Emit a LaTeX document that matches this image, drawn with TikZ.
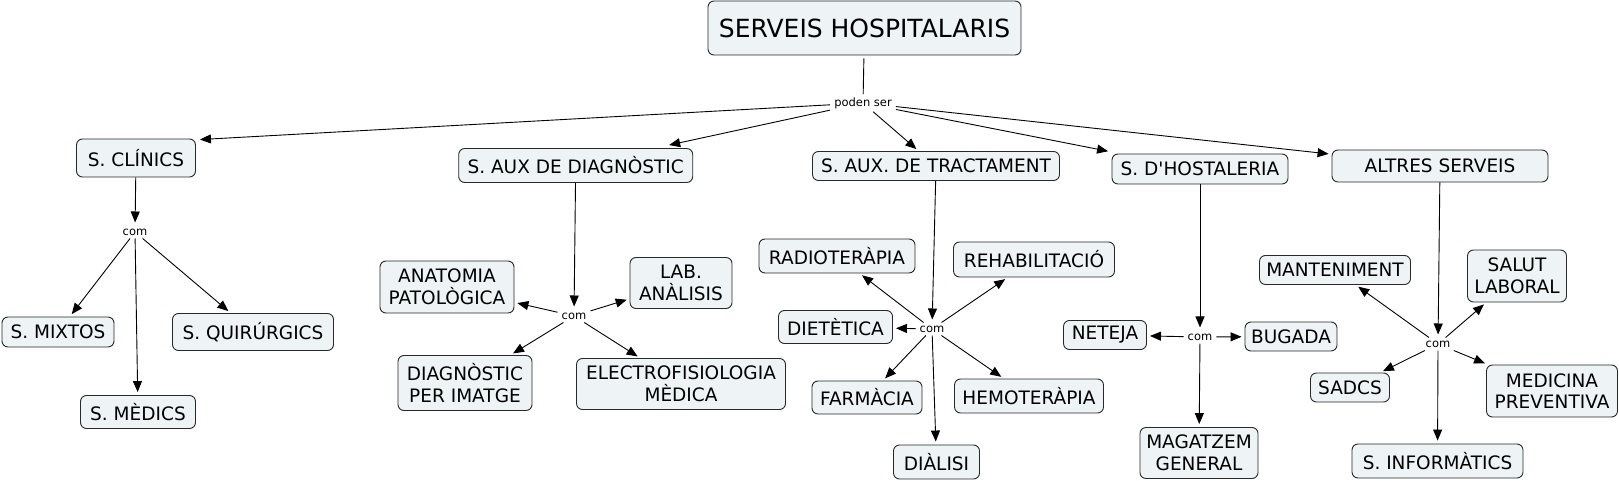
\documentclass[tikz,border=0pt]{standalone}
\usepackage{fontspec}
\setmainfont{DejaVu Sans}
\usetikzlibrary{arrows.meta,calc}
\definecolor{boxfill}{RGB}{238,243,245}
\definecolor{boxdraw}{RGB}{40,40,40}
\tikzset{
  cbox/.style={draw=boxdraw, fill=boxfill, line width=0.9pt, rounded corners=6pt,
    inner sep=0pt, align=center, font=\fontsize{18.5pt}{21.5pt}\selectfont},
  link/.style={inner xsep=4pt, inner ysep=3pt, font=\fontsize{11.5pt}{13pt}\selectfont},
  arr/.style={draw=black, line width=0.9pt, -{Triangle[length=11pt,width=9pt]}, shorten >=3pt},
  plain/.style={draw=black, line width=0.9pt}
}
\begin{document}
\begin{tikzpicture}[x=1pt,y=-1pt]
\useasboundingbox (0,0) rectangle (1619,481);
% top
\node[cbox, minimum width=313pt, minimum height=54pt, font=\fontsize{25pt}{28pt}\selectfont] (title) at (864.5,28) {SERVEIS HOSPITALARIS};
\node[link] (ps) at (863,103) {poden ser};
% second level
\node[cbox, minimum width=119pt, minimum height=38pt] (clin) at (136,158) {S. CLÍNICS};
\node[cbox, minimum width=234pt, minimum height=34pt] (diag) at (575.7,165.5) {S. AUX DE DIAGNÒSTIC};
\node[cbox, minimum width=247pt, minimum height=29pt] (trac) at (936,166) {S. AUX. DE TRACTAMENT};
\node[cbox, minimum width=176pt, minimum height=30pt] (host) at (1200,169) {S. D\textquotesingle HOSTALERIA};
\node[cbox, minimum width=216pt, minimum height=32pt] (altr) at (1440,166) {ALTRES SERVEIS};
% clinics
\node[link] (c1) at (135,232) {com};
\node[cbox, minimum width=112pt, minimum height=30pt] (mixt) at (58,332) {S. MIXTOS};
\node[cbox, minimum width=115pt, minimum height=33pt] (medi) at (138,412) {S. MÈDICS};
\node[cbox, minimum width=161pt, minimum height=37pt] (quir) at (253,332) {S. QUIRÚRGICS};
% diagnostic
\node[link] (c2) at (574,316) {com};
\node[cbox, minimum width=134pt, minimum height=52pt] (anat) at (447,287) {ANATOMIA\\PATOLÒGICA};
\node[cbox, minimum width=102pt, minimum height=51pt] (lab) at (681,283) {LAB.\\ANÀLISIS};
\node[cbox, minimum width=134pt, minimum height=55pt] (dimg) at (465,383) {DIAGNÒSTIC\\PER IMATGE};
\node[cbox, minimum width=209pt, minimum height=51pt] (elec) at (681,384) {ELECTROFISIOLOGIA\\MÈDICA};
% tractament
\node[link] (c3) at (932,329) {com};
\node[cbox, minimum width=156pt, minimum height=34pt] (radio) at (837,256) {RADIOTERÀPIA};
\node[cbox, minimum width=161pt, minimum height=35pt] (rehab) at (1034,259.5) {REHABILITACIÓ};
\node[cbox, minimum width=114pt, minimum height=33pt] (diet) at (835.5,327) {DIETÈTICA};
\node[cbox, minimum width=110pt, minimum height=33pt] (farm) at (867,397.5) {FARMÀCIA};
\node[cbox, minimum width=149pt, minimum height=34pt] (hemo) at (1029,396) {HEMOTERÀPIA};
\node[cbox, minimum width=86pt, minimum height=34pt] (dial) at (936.5,462) {DIÀLISI};
% hostaleria
\node[link] (c4) at (1200,337) {com};
\node[cbox, minimum width=83pt, minimum height=29pt] (net) at (1105,335) {NETEJA};
\node[cbox, minimum width=92pt, minimum height=29pt] (bug) at (1291,336.5) {BUGADA};
\node[cbox, minimum width=118pt, minimum height=51pt] (mag) at (1199,453) {MAGATZEM\\GENERAL};
% altres
\node[link] (c5) at (1438,344) {com};
\node[cbox, minimum width=151pt, minimum height=29pt] (mant) at (1335,270) {MANTENIMENT};
\node[cbox, minimum width=99pt, minimum height=52pt] (salut) at (1517,276) {SALUT\\LABORAL};
\node[cbox, minimum width=79pt, minimum height=29pt] (sadcs) at (1350,387.5) {SADCS};
\node[cbox, minimum width=131pt, minimum height=52pt] (med) at (1552,391) {MEDICINA\\PREVENTIVA};
\node[cbox, minimum width=171pt, minimum height=34pt] (inf) at (1437.5,461) {S. INFORMÀTICS};
% connectors
\draw[plain, shorten <=3pt] (title) -- (ps);
\draw[arr, shorten >=0pt] (ps) -- ($(clin.north east)+(4,1)$);
\draw[arr, shorten >=0pt] (ps) -- ($(diag.north east)+(-24,-3)$);
\draw[arr] (ps) -- (trac);
\draw[arr, shorten >=0pt] (ps) -- ($(host.north west)+(-3.5,-2.3)$);
\draw[arr] (ps) -- (altr);
% clinics
\draw[arr] (clin) -- (c1);
\draw[arr] (c1) -- (mixt);
\draw[arr] (c1) -- (medi);
\draw[arr] (c1) -- (quir);
% diagnostic
\draw[arr] (diag) -- (c2);
\draw[arr] (c2) -- (anat);
\draw[arr] (c2) -- (lab);
\draw[arr] (c2) -- (dimg);
\draw[arr] (c2) -- (elec);
% tractament
\draw[arr] (trac) -- (c3);
\draw[arr] (c3) -- (radio);
\draw[arr] (c3) -- (rehab);
\draw[arr] (c3) -- (diet);
\draw[arr] (c3) -- (farm);
\draw[arr] (c3) -- (hemo);
\draw[arr] (c3) -- (dial);
% hostaleria
\draw[arr] (host) -- (c4);
\draw[arr] (c4) -- (net);
\draw[arr] (c4) -- (bug);
\draw[arr] (c4) -- (mag);
% altres
\draw[arr] (altr) -- (c5);
\draw[arr] (c5) -- (mant);
\draw[arr] (c5) -- (salut);
\draw[arr] (c5) -- (sadcs);
\draw[arr] (c5) -- (med);
\draw[arr] (c5) -- (inf);
\end{tikzpicture}
\end{document}
